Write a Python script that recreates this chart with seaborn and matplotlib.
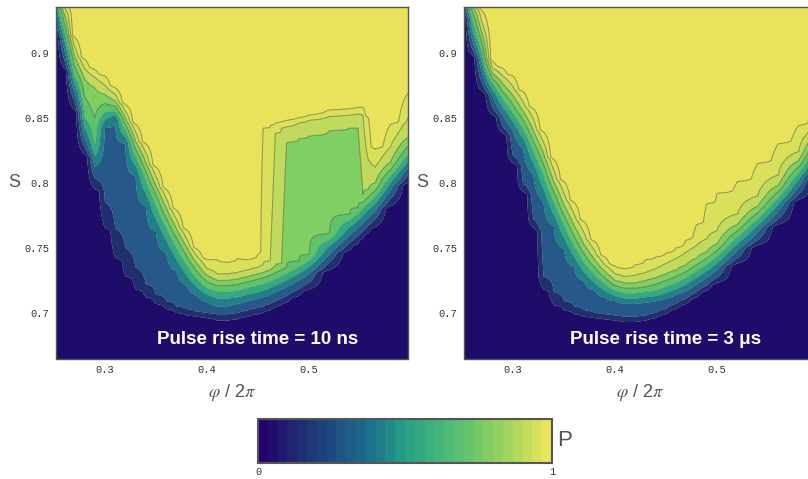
import numpy as np
import matplotlib
matplotlib.use("Agg")
import matplotlib.pyplot as plt
import seaborn as sns
from matplotlib.colors import ListedColormap, Normalize
from matplotlib.cm import ScalarMappable
from matplotlib.ticker import FixedLocator, MultipleLocator

# ---------------- data: contour boundaries (s) per phi column ----------------
# level values of the boundaries b1..b9
levels = [0.1, 0.2, 0.3, 0.4, 0.5, 0.6, 0.7, 0.8, 0.9]

# Panel 1: pulse rise time = 10 ns
phi_10ns = [0.252, 0.26, 0.27, 0.28, 0.29, 0.30, 0.31, 0.32, 0.33, 0.34, 0.35, 0.36,
            0.37, 0.38, 0.39, 0.40, 0.41, 0.42, 0.43, 0.44, 0.45, 0.455, 0.462, 0.467,
            0.473, 0.478, 0.49, 0.50, 0.52, 0.54, 0.548, 0.553, 0.558, 0.565, 0.58, 0.597]
b1_10ns = [0.915, 0.888, 0.856, 0.822, 0.795, 0.765, 0.742, 0.728, 0.718, 0.712, 0.707, 0.703,
           0.700, 0.698, 0.697, 0.696, 0.694, 0.694, 0.695, 0.697, 0.699, 0.700, 0.702, 0.704,
           0.706, 0.708, 0.713, 0.718, 0.733, 0.748, 0.753, 0.757, 0.761, 0.766, 0.782, 0.800]
b2_10ns = [0.922, 0.895, 0.863, 0.828, 0.803, 0.785, 0.765, 0.750, 0.735, 0.722, 0.714, 0.709,
           0.705, 0.703, 0.701, 0.700, 0.699, 0.699, 0.700, 0.702, 0.704, 0.705, 0.707, 0.709,
           0.711, 0.713, 0.718, 0.723, 0.739, 0.754, 0.759, 0.763, 0.767, 0.772, 0.788, 0.806]
b3_10ns = [0.930, 0.903, 0.870, 0.834, 0.812, 0.842, 0.848, 0.830, 0.805, 0.782, 0.762, 0.746,
           0.732, 0.721, 0.713, 0.708, 0.705, 0.705, 0.707, 0.709, 0.711, 0.712, 0.714, 0.716,
           0.718, 0.720, 0.725, 0.730, 0.745, 0.760, 0.765, 0.769, 0.773, 0.778, 0.794, 0.811]
b4_10ns = [0.937, 0.910, 0.876, 0.842, 0.820, 0.848, 0.852, 0.835, 0.813, 0.792, 0.772, 0.756,
           0.741, 0.729, 0.720, 0.714, 0.711, 0.711, 0.712, 0.714, 0.716, 0.717, 0.719, 0.721,
           0.723, 0.725, 0.730, 0.735, 0.751, 0.766, 0.771, 0.775, 0.779, 0.784, 0.800, 0.816]
b5_10ns = [0.942, 0.917, 0.882, 0.850, 0.828, 0.854, 0.855, 0.840, 0.820, 0.801, 0.782, 0.765,
           0.750, 0.737, 0.726, 0.719, 0.716, 0.716, 0.717, 0.719, 0.721, 0.722, 0.724, 0.726,
           0.728, 0.730, 0.735, 0.740, 0.756, 0.771, 0.776, 0.780, 0.784, 0.789, 0.805, 0.821]
b6_10ns = [0.947, 0.923, 0.890, 0.866, 0.850, 0.861, 0.859, 0.845, 0.826, 0.809, 0.791, 0.773,
           0.758, 0.744, 0.732, 0.724, 0.721, 0.721, 0.722, 0.724, 0.726, 0.727, 0.729, 0.731,
           0.733, 0.735, 0.740, 0.745, 0.761, 0.776, 0.781, 0.785, 0.789, 0.794, 0.810, 0.828]
b7_10ns = [0.952, 0.930, 0.898, 0.880, 0.873, 0.868, 0.863, 0.850, 0.832, 0.816, 0.798, 0.781,
           0.765, 0.751, 0.738, 0.729, 0.725, 0.725, 0.726, 0.728, 0.730, 0.731, 0.733, 0.736,
           0.738, 0.831, 0.834, 0.836, 0.840, 0.842, 0.842, 0.791, 0.795, 0.800, 0.816, 0.835]
b8_10ns = [0.957, 0.935, 0.905, 0.888, 0.881, 0.875, 0.868, 0.855, 0.839, 0.823, 0.805, 0.788,
           0.772, 0.757, 0.744, 0.734, 0.730, 0.730, 0.731, 0.733, 0.735, 0.737, 0.740, 0.838,
           0.842, 0.843, 0.846, 0.848, 0.851, 0.852, 0.853, 0.852, 0.818, 0.812, 0.828, 0.850]
b9_10ns = [0.962, 0.940, 0.912, 0.895, 0.887, 0.882, 0.873, 0.860, 0.845, 0.830, 0.812, 0.795,
           0.779, 0.764, 0.749, 0.741, 0.741, 0.739, 0.742, 0.741, 0.745, 0.842, 0.844, 0.846,
           0.847, 0.848, 0.850, 0.852, 0.856, 0.857, 0.858, 0.858, 0.850, 0.826, 0.845, 0.869]

# Panel 2: pulse rise time = 3 us
phi_3us = [0.252, 0.26, 0.27, 0.28, 0.29, 0.30, 0.31, 0.32, 0.33, 0.34, 0.35, 0.36, 0.37,
           0.38, 0.39, 0.40, 0.41, 0.42, 0.43, 0.44, 0.45, 0.46, 0.47, 0.48, 0.49, 0.50,
           0.52, 0.54, 0.56, 0.58, 0.597]
b1_3us = [0.928, 0.898, 0.870, 0.852, 0.838, 0.815, 0.793, 0.765, 0.718, 0.706, 0.702, 0.699, 0.697,
          0.696, 0.695, 0.694, 0.693, 0.693, 0.694, 0.696, 0.699, 0.703, 0.707, 0.712, 0.717, 0.723,
          0.738, 0.752, 0.768, 0.787, 0.806]
b2_3us = [0.933, 0.903, 0.876, 0.858, 0.843, 0.821, 0.799, 0.772, 0.728, 0.716, 0.709, 0.705, 0.702,
          0.700, 0.699, 0.698, 0.697, 0.697, 0.698, 0.700, 0.703, 0.707, 0.711, 0.716, 0.721, 0.727,
          0.742, 0.756, 0.772, 0.791, 0.810]
b3_3us = [0.938, 0.910, 0.884, 0.866, 0.852, 0.840, 0.826, 0.806, 0.785, 0.767, 0.749, 0.735, 0.724,
          0.717, 0.712, 0.709, 0.707, 0.707, 0.708, 0.709, 0.711, 0.714, 0.717, 0.722, 0.727, 0.733,
          0.748, 0.762, 0.778, 0.797, 0.816]
b4_3us = [0.942, 0.918, 0.891, 0.871, 0.858, 0.847, 0.834, 0.815, 0.795, 0.776, 0.758, 0.743, 0.731,
          0.723, 0.717, 0.713, 0.711, 0.711, 0.712, 0.713, 0.715, 0.718, 0.722, 0.727, 0.732, 0.738,
          0.753, 0.767, 0.783, 0.802, 0.821]
b5_3us = [0.946, 0.925, 0.898, 0.876, 0.864, 0.853, 0.841, 0.824, 0.805, 0.785, 0.767, 0.751, 0.738,
          0.729, 0.722, 0.717, 0.715, 0.715, 0.716, 0.717, 0.720, 0.723, 0.727, 0.732, 0.737, 0.743,
          0.758, 0.772, 0.788, 0.807, 0.826]
b6_3us = [0.950, 0.932, 0.906, 0.880, 0.870, 0.860, 0.848, 0.832, 0.814, 0.793, 0.775, 0.759, 0.745,
          0.735, 0.727, 0.721, 0.719, 0.719, 0.720, 0.722, 0.725, 0.728, 0.732, 0.737, 0.742, 0.748,
          0.763, 0.777, 0.793, 0.812, 0.831]
b7_3us = [0.954, 0.939, 0.914, 0.884, 0.876, 0.867, 0.855, 0.840, 0.823, 0.801, 0.783, 0.767, 0.752,
          0.741, 0.732, 0.725, 0.723, 0.723, 0.725, 0.727, 0.730, 0.733, 0.737, 0.742, 0.747, 0.753,
          0.768, 0.782, 0.798, 0.817, 0.836]
b8_3us = [0.958, 0.945, 0.922, 0.888, 0.882, 0.874, 0.862, 0.849, 0.831, 0.810, 0.792, 0.776, 0.761,
          0.748, 0.737, 0.730, 0.728, 0.729, 0.731, 0.734, 0.738, 0.742, 0.747, 0.752, 0.757, 0.763,
          0.776, 0.790, 0.806, 0.824, 0.843]
b9_3us = [0.962, 0.952, 0.932, 0.893, 0.888, 0.882, 0.870, 0.857, 0.839, 0.818, 0.801, 0.785, 0.770,
          0.755, 0.743, 0.736, 0.734, 0.737, 0.741, 0.743, 0.746, 0.750, 0.756, 0.768, 0.784, 0.792,
          0.801, 0.815, 0.830, 0.844, 0.866]

titles = ["Pulse rise time = 10 ns", "Pulse rise time = 3 \u03bcs"]
x_ticks = [0.3, 0.4, 0.5]
x_tick_labels = ["0.3", "0.4", "0.5"]
y_ticks = [0.7, 0.75, 0.8, 0.85, 0.9]
y_tick_labels = ["0.7", "0.75", "0.8", "0.85", "0.9"]
cbar_ticks = [0, 1]
cbar_tick_labels = ["0", "1"]

# ---------------- style ----------------
sns.set_theme(style="white")
plt.rcParams["font.family"] = ["Liberation Sans", "DejaVu Sans"]
plt.rcParams["mathtext.fontset"] = "stix"

band_colors = ["#1f0b69", "#1f2f70", "#26588a", "#1f8089", "#34a984",
               "#5ec36b", "#7fcf62", "#c0da5d", "#d9e15b", "#e8e35a"]
bar_stops = ["#22036b", "#202c72", "#1d4c83", "#1c6f8b", "#26a087",
             "#45b57a", "#6fc768", "#a7d65c", "#e9e45a"]
bar_cmap = ListedColormap(sns.blend_palette(bar_stops, n_colors=30))

MONO = "Liberation Mono"
GRAY = "#555555"


def build_field(phi, bounds, s_grid):
    P = np.zeros((len(s_grid), len(phi)))
    fp = [0.0] + levels + [1.0]
    for j in range(len(phi)):
        col = [b[j] for b in bounds]
        xp = [col[0] - 0.002] + col + [col[-1] + 0.002]
        P[:, j] = np.interp(s_grid, xp, fp)
    return P


s_grid = np.linspace(0.66, 0.97, 800)

fig = plt.figure(figsize=(8.08, 4.79), dpi=100)
W, H = 808.0, 479.0
ax_b = 1 - 358.5 / H
ax_h = 351.5 / H
ax_w = 352 / W
ax1 = fig.add_axes([56 / W, ax_b, ax_w, ax_h])
ax2 = fig.add_axes([464 / W, ax_b, ax_w, ax_h])

panels = [
    (ax1, phi_10ns, [b1_10ns, b2_10ns, b3_10ns, b4_10ns, b5_10ns, b6_10ns, b7_10ns, b8_10ns, b9_10ns]),
    (ax2, phi_3us, [b1_3us, b2_3us, b3_3us, b4_3us, b5_3us, b6_3us, b7_3us, b8_3us, b9_3us]),
]

for (ax, phi, bounds), title in zip(panels, titles):
    P = build_field(phi, bounds, s_grid)
    ax.contourf(phi, s_grid, P, levels=[-1.0] + levels + [2.0], colors=band_colors,
                antialiased=True)
    ax.contour(phi, s_grid, P, levels=levels[:5], colors="#2a2a18", linewidths=0.6, alpha=0.22)
    ax.contour(phi, s_grid, P, levels=levels[5:], colors="#3c3c1e", linewidths=0.7, alpha=0.5)
    ax.set_xlim(0.252, 0.597)
    ax.set_ylim(0.665, 0.935)
    ax.xaxis.set_major_locator(FixedLocator(x_ticks))
    ax.set_xticklabels(x_tick_labels, fontfamily=MONO, fontsize=7.5, color="#333333")
    ax.yaxis.set_major_locator(FixedLocator(y_ticks))
    ax.set_yticklabels(y_tick_labels, fontfamily=MONO, fontsize=7.5, color="#333333")
    ax.yaxis.set_minor_locator(MultipleLocator(0.025))
    ax.tick_params(which="both", direction="in", color="#888888", width=0.8,
                   bottom=True, left=True, top=False, right=False)
    ax.tick_params(which="major", length=4, pad=5)
    ax.tick_params(which="minor", length=2.5)
    for sp in ax.spines.values():
        sp.set_color(GRAY)
        sp.set_linewidth(1.0)
    ax.set_ylabel("S", rotation=0, fontsize=13, color=GRAY, va="center", ha="center")
    ax.yaxis.set_label_coords(-0.119, 0.5)
    ax.set_xlabel(r"$\varphi$ / 2$\pi$", fontsize=13, color=GRAY, va="center")
    ax.xaxis.set_label_coords(0.5, -0.098)
    ax.text(0.4496, 0.6796, title, color="white", fontweight="bold", fontsize=13.5,
            ha="center", va="center", family=["Liberation Sans", "DejaVu Sans"])

# colorbar
cax = fig.add_axes([258 / W, 1 - 463 / H, 294 / W, 44 / H])
sm = ScalarMappable(norm=Normalize(0, 1), cmap=bar_cmap)
cb = fig.colorbar(sm, cax=cax, orientation="horizontal", ticks=cbar_ticks)
cb.ax.set_xticklabels(cbar_tick_labels, fontfamily=MONO, fontsize=7.5, color="#333333")
cb.ax.tick_params(length=0, pad=3)
cb.outline.set_edgecolor(GRAY)
cb.outline.set_linewidth(1.5)
fig.text(557 / W, 1 - 440 / H, "P", fontsize=16, color=GRAY, va="center", ha="left")

fig.savefig("out.png", dpi=100)
